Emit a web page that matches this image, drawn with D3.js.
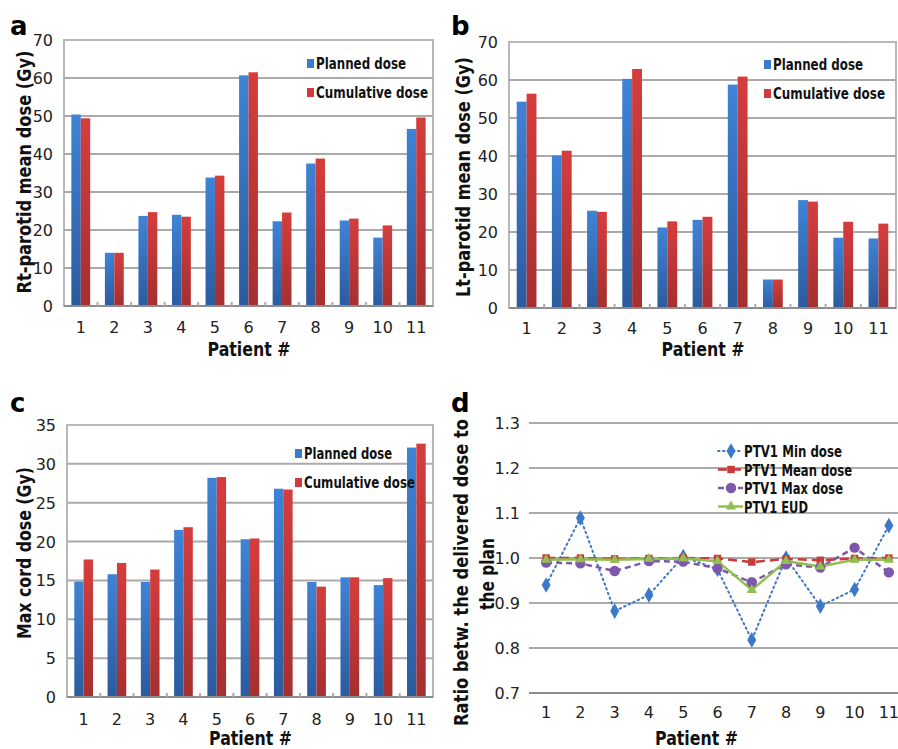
<!DOCTYPE html>
<html>
<head>
<meta charset="utf-8">
<script src="https://cdn.jsdelivr.net/npm/d3@7"></script>
<style>
  body { margin: 0; background: #fff; }
  svg { display: block; }
  .tick-label { font-family: "DejaVu Sans", sans-serif; font-size: 16px; fill: #222; }
  .title { font-family: "DejaVu Sans", sans-serif; font-weight: bold; fill: #111; }
  .panel-letter { font-family: "DejaVu Sans", sans-serif; font-weight: bold; font-size: 26px; fill: #000; }
</style>
</head>
<body>
<div id="chart"></div>
<script>
const patients = ['1', '2', '3', '4', '5', '6', '7', '8', '9', '10', '11'];
const barSeries = ['Planned dose', 'Cumulative dose'];

const rtPlanned = [50.4, 14.0, 23.7, 24.0, 33.8, 60.7, 22.3, 37.5, 22.5, 18.0, 46.6];
const rtCumulative = [49.4, 14.0, 24.7, 23.5, 34.3, 61.5, 24.6, 38.8, 23.0, 21.2, 49.6];

const ltPlanned = [54.3, 40.1, 25.6, 60.3, 21.2, 23.2, 58.8, 7.5, 28.4, 18.5, 18.3];
const ltCumulative = [56.4, 41.4, 25.3, 62.9, 22.8, 24.0, 60.9, 7.5, 28.0, 22.7, 22.2];

const cordPlanned = [14.85, 15.8, 14.8, 21.5, 28.2, 20.3, 26.8, 14.8, 15.4, 14.4, 32.1];
const cordCumulative = [17.7, 17.25, 16.4, 21.85, 28.3, 20.4, 26.7, 14.2, 15.4, 15.3, 32.6];

const ratioSeries = ['PTV1 Min dose', 'PTV1 Mean dose', 'PTV1 Max dose', 'PTV1 EUD'];
const minDose = [0.940, 1.089, 0.882, 0.918, 1.003, 0.975, 0.818, 1.0, 0.893, 0.930, 1.072];
const meanDose = [1.0, 1.0, 0.998, 0.999, 1.0, 0.999, 0.991, 0.998, 0.995, 0.999, 1.0];
const maxDose = [0.990, 0.988, 0.971, 0.993, 0.992, 0.977, 0.946, 0.986, 0.979, 1.023, 0.968];
const eudDose = [0.996, 0.997, 0.996, 0.998, 0.999, 0.993, 0.929, 0.993, 0.981, 0.996, 0.996];

const W = 898, H = 749;
const svg = d3.select('#chart').append('svg')
  .attr('width', W)
  .attr('height', H);

// bold labels are condensed in the original, squeeze them to the same width
function title(sel, txt, size, len) {
  return sel.append('text')
    .attr('class', 'title')
    .style('font-size', size + 'px')
    .attr('textLength', len)
    .attr('lengthAdjust', 'spacingAndGlyphs')
    .text(txt);
}

// bar gradients
const defs = svg.append('defs');
function gradient(id, top, bottom) {
  const g = defs.append('linearGradient')
    .attr('id', id)
    .attr('x1', 0).attr('y1', 0).attr('x2', 0).attr('y2', 1);
  g.append('stop').attr('offset', '0%').attr('stop-color', top);
  g.append('stop').attr('offset', '100%').attr('stop-color', bottom);
}
gradient('gBlue', '#3f83d6', '#2c5b9e');
gradient('gRed', '#d53d3d', '#a52f2f');
const barFills = ['url(#gBlue)', 'url(#gRed)'];
const legendFills = ['#3a7bd0', '#cf3a3a'];

function barPanel(o) {
  const x = d3.scaleBand().domain(patients).range([o.left, o.right]);
  const x1 = d3.scaleBand().domain(barSeries).range([0, x.bandwidth()]).paddingOuter(0.78);
  const y = d3.scaleLinear().domain([0, o.max]).range([o.bottom, o.top]);
  const g = svg.append('g');

  // frame
  g.append('rect')
    .attr('x', o.left).attr('y', o.top)
    .attr('width', o.right - o.left).attr('height', o.bottom - o.top)
    .attr('fill', 'none').attr('stroke', '#b8b8b8').attr('stroke-width', 2);

  // gridlines
  g.selectAll('.grid')
    .data(y.ticks(o.max / o.step).filter(d => d > 0 && d < o.max))
    .enter().append('line')
    .attr('x1', o.left).attr('x2', o.right)
    .attr('y1', d => y(d)).attr('y2', d => y(d))
    .attr('stroke', '#aaaaaa').attr('stroke-width', 2);

  // bars
  const values = [o.planned, o.cumulative];
  barSeries.forEach((s, si) => {
    g.selectAll('.bar' + si)
      .data(patients)
      .enter().append('rect')
      .attr('x', d => x(d) + x1(s))
      .attr('y', (d, i) => y(values[si][i]))
      .attr('width', x1.bandwidth())
      .attr('height', (d, i) => y(0) - y(values[si][i]))
      .attr('fill', barFills[si]);
  });

  // baseline + small ticks between categories
  g.append('line')
    .attr('x1', o.left).attr('x2', o.right)
    .attr('y1', y(0)).attr('y2', y(0))
    .attr('stroke', '#8c8c8c').attr('stroke-width', 2);
  g.selectAll('.xt')
    .data(patients.slice(1))
    .enter().append('line')
    .attr('x1', d => x(d)).attr('x2', d => x(d))
    .attr('y1', y(0)).attr('y2', y(0) - 4)
    .attr('stroke', '#aaaaaa').attr('stroke-width', 2);

  // y tick labels
  g.selectAll('.yl')
    .data(y.ticks(o.max / o.step))
    .enter().append('text')
    .attr('class', 'tick-label')
    .attr('x', o.left - 11)
    .attr('y', d => y(d) + 6)
    .attr('text-anchor', 'end')
    .text(d => d);

  // x tick labels
  g.selectAll('.xl')
    .data(patients)
    .enter().append('text')
    .attr('class', 'tick-label')
    .attr('x', d => x(d) + x.bandwidth() / 2)
    .attr('y', o.xLabelY)
    .attr('text-anchor', 'middle')
    .text(d => d);

  title(g, 'Patient #', 20, 83)
    .attr('x', (o.left + o.right) / 2 - 41)
    .attr('y', o.xTitleY);

  title(g, o.yTitle, 20, o.yTitleLen)
    .attr('transform', `translate(${o.yTitleX}, ${o.yTitleY + o.yTitleLen / 2}) rotate(-90)`);

  // legend
  barSeries.forEach((s, si) => {
    const ly = o.legendY + si * 29;
    g.append('rect')
      .attr('x', o.legendX).attr('y', ly - 10)
      .attr('width', 7).attr('height', 9)
      .attr('fill', legendFills[si]);
    title(g, s, 15, o.legendLen[si])
      .attr('x', o.legendX + 9)
      .attr('y', ly);
  });

  svg.append('text')
    .attr('class', 'panel-letter')
    .attr('x', o.letterX).attr('y', o.letterY)
    .text(o.letter);
}

barPanel({
  letter: 'a', letterX: 10, letterY: 35,
  left: 64, right: 433, top: 40, bottom: 306, max: 70, step: 10,
  planned: rtPlanned, cumulative: rtCumulative,
  xLabelY: 333, xTitleY: 356, yTitleX: 31, yTitleY: 172, yTitleLen: 243,
  yTitle: 'Rt-parotid mean dose  (Gy)',
  legendX: 307, legendY: 69, legendLen: [90, 112]
});

barPanel({
  letter: 'b', letterX: 451, letterY: 35,
  left: 509, right: 896, top: 42, bottom: 308, max: 70, step: 10,
  planned: ltPlanned, cumulative: ltCumulative,
  xLabelY: 334, xTitleY: 356, yTitleX: 470, yTitleY: 177, yTitleLen: 240,
  yTitle: 'Lt-parotid mean dose  (Gy)',
  legendX: 764, legendY: 70, legendLen: [90, 112]
});

barPanel({
  letter: 'c', letterX: 10, letterY: 412,
  left: 67, right: 433, top: 425, bottom: 697, max: 35, step: 5,
  planned: cordPlanned, cumulative: cordCumulative,
  xLabelY: 725, xTitleY: 745, yTitleX: 31, yTitleY: 553, yTitleLen: 172,
  yTitle: 'Max cord dose  (Gy)',
  legendX: 295, legendY: 459, legendLen: [88, 111]
});

// panel d: ratio line chart
(function () {
  const left = 529, right = 906, top = 423, bottom = 693;
  const x = d3.scalePoint().domain(patients).range([left, right]).padding(0.5);
  const y = d3.scaleLinear().domain([0.7, 1.3]).range([bottom, top]);
  const g = svg.append('g');

  g.selectAll('.grid')
    .data(d3.range(8, 14).map(d => d / 10))
    .enter().append('line')
    .attr('x1', left).attr('x2', W)
    .attr('y1', d => y(d)).attr('y2', d => y(d))
    .attr('stroke', '#aaaaaa').attr('stroke-width', 2);
  g.append('line')
    .attr('x1', left).attr('x2', W)
    .attr('y1', y(0.7)).attr('y2', y(0.7))
    .attr('stroke', '#8c8c8c').attr('stroke-width', 2);

  g.selectAll('.yl')
    .data(d3.range(7, 14).map(d => d / 10))
    .enter().append('text')
    .attr('class', 'tick-label')
    .attr('x', left - 9)
    .attr('y', d => y(d) + 6)
    .attr('text-anchor', 'end')
    .text(d => d3.format('.1f')(d));

  g.selectAll('.xl')
    .data(patients)
    .enter().append('text')
    .attr('class', 'tick-label')
    .attr('x', d => x(d))
    .attr('y', 718)
    .attr('text-anchor', 'middle')
    .text(d => d);

  title(g, 'Patient #', 20, 83)
    .attr('x', 655).attr('y', 745);

  title(g, 'Ratio betw. the delivered dose to', 20, 307)
    .attr('transform', `translate(468, ${573 + 153}) rotate(-90)`);
  title(g, 'the plan', 20, 72)
    .attr('transform', `translate(494, ${574 + 36}) rotate(-90)`);

  const styles = [
    {values: minDose, color: '#3b78c9', dash: '1.5,3.5', width: 2, cap: 'round', marker: d3.symbolDiamond, size: 70},
    {values: meanDose, color: '#c93b38', dash: '9,5', width: 2.5, cap: 'butt', marker: d3.symbolSquare, size: 55},
    {values: maxDose, color: '#7e57ab', dash: '6,4', width: 2.5, cap: 'butt', marker: d3.symbolCircle, size: 85},
    {values: eudDose, color: '#92c050', dash: null, width: 2.5, cap: 'butt', marker: d3.symbolTriangle, size: 45}
  ];

  const line = d3.line()
    .x((d, i) => x(patients[i]))
    .y(d => y(d));

  styles.forEach(s => {
    g.append('path')
      .datum(s.values)
      .attr('d', line)
      .attr('fill', 'none')
      .attr('stroke', s.color)
      .attr('stroke-width', s.width)
      .attr('stroke-linecap', s.cap)
      .attr('stroke-dasharray', s.dash);
  });
  styles.forEach(s => {
    g.selectAll(null)
      .data(s.values)
      .enter().append('path')
      .attr('transform', (d, i) => `translate(${x(patients[i])}, ${y(d)})`)
      .attr('d', d3.symbol().type(s.marker).size(s.size))
      .attr('fill', s.color);
  });

  // legend
  const legendLen = [98, 108, 99, 64];
  ratioSeries.forEach((name, i) => {
    const s = styles[i];
    const ly = 451 + i * 18.5;
    g.append('line')
      .attr('x1', 718).attr('x2', 743)
      .attr('y1', ly).attr('y2', ly)
      .attr('stroke', s.color)
      .attr('stroke-width', s.width)
      .attr('stroke-linecap', s.cap)
      .attr('stroke-dasharray', s.dash);
    g.append('path')
      .attr('transform', `translate(731, ${ly})`)
      .attr('d', d3.symbol().type(s.marker).size(s.size))
      .attr('fill', s.color);
    title(g, name, 15, legendLen[i])
      .attr('x', 744).attr('y', ly + 6);
  });

  svg.append('text')
    .attr('class', 'panel-letter')
    .attr('x', 451).attr('y', 412)
    .text('d');
})();
</script>
</body>
</html>
